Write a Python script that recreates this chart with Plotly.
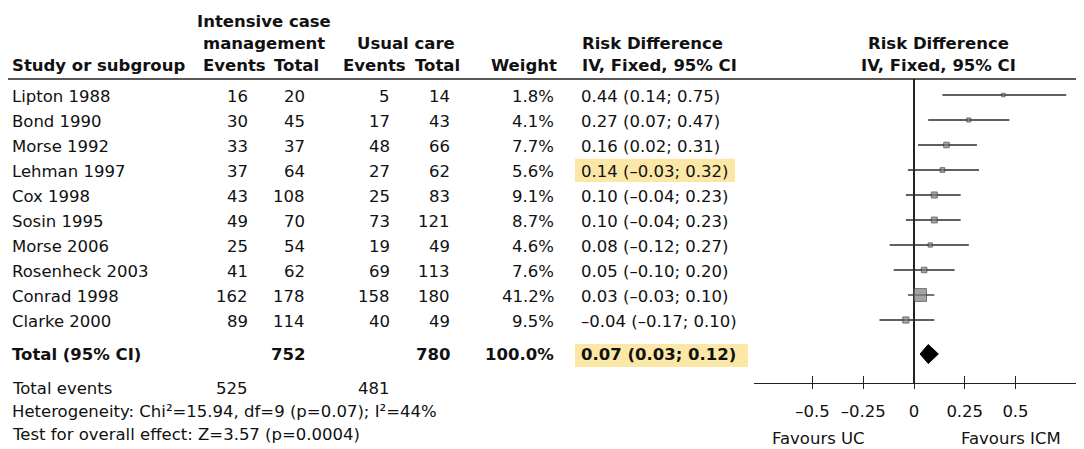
import plotly.graph_objects as go

# ---------------- data ----------------
STUDIES = ["Lipton 1988", "Bond 1990", "Morse 1992", "Lehman 1997", "Cox 1998",
           "Sosin 1995", "Morse 2006", "Rosenheck 2003", "Conrad 1998", "Clarke 2000"]
ICM_EVENTS = [16, 30, 33, 37, 43, 49, 25, 41, 162, 89]
ICM_TOTAL = [20, 45, 37, 64, 108, 70, 54, 62, 178, 114]
UC_EVENTS = [5, 17, 48, 27, 25, 73, 19, 69, 158, 40]
UC_TOTAL = [14, 43, 66, 62, 83, 121, 49, 113, 180, 49]
WEIGHT = [1.8, 4.1, 7.7, 5.6, 9.1, 8.7, 4.6, 7.6, 41.2, 9.5]
RD = [0.44, 0.27, 0.16, 0.14, 0.10, 0.10, 0.08, 0.05, 0.03, -0.04]
RD_LO = [0.14, 0.07, 0.02, -0.03, -0.04, -0.04, -0.12, -0.10, -0.03, -0.17]
RD_HI = [0.75, 0.47, 0.31, 0.32, 0.23, 0.23, 0.27, 0.20, 0.10, 0.10]
HIGHLIGHT = ["Lehman 1997"]

TOTAL_ICM_N = 752
TOTAL_UC_N = 780
TOTAL_WEIGHT = 100.0
TOTAL_RD, TOTAL_LO, TOTAL_HI = 0.07, 0.03, 0.12
TOTAL_ICM_EVENTS = 525
TOTAL_UC_EVENTS = 481
HETEROGENEITY = "Heterogeneity: Chi\u00b2=15.94, df=9 (p=0.07); I\u00b2=44%"
OVERALL = "Test for overall effect: Z=3.57 (p=0.0004)"

TICK_VALS = [-0.5, -0.25, 0, 0.25, 0.5]
TICK_TEXT = ["\u20130.5", "\u20130.25", "0", "0.25", "0.5"]
FAVOURS = [("Favours UC", -0.47), ("Favours ICM", 0.48)]

# ---------------- layout helpers ----------------
W, H = 1084, 449
OFF = 8                       # page body margin: figure starts 8px right/down
ROW0, STEP = 95, 25           # page pixel centre of first study row and row pitch
FONT = "DejaVu Sans"
FS = 16.5
INK = "#111111"
LINE = "#222222"
YELLOW = "#FBE8A6"

def r_of(py):
    """page pixel y -> row units"""
    return (py - ROW0) / STEP

ZERO_PX, PX_PER_UNIT = 914, 203
AX_LEFT_PX = 754
X2_RANGE = [(AX_LEFT_PX - ZERO_PX) / PX_PER_UNIT, (W + OFF - ZERO_PX) / PX_PER_UNIT]
AXIS_PX, HEAD_LINE_PX = 383, 79

def fmt(v):
    return f"{v:.2f}".replace("-", "\u2013")

annotations = []

def txt(x, py, s, anchor="left", bold=False, xref="x"):
    annotations.append(dict(x=x, y=r_of(py), xref=xref, yref="y",
                            text=f"<b>{s}</b>" if bold else s,
                            showarrow=False, xanchor=anchor, yanchor="middle",
                            font=dict(family=FONT, size=FS, color=INK)))

# headers (page pixel coordinates)
txt(264, 21, "Intensive case", "center", True)
txt(264, 43, "management", "center", True)
txt(406, 43, "Usual care", "center", True)
txt(580, 43, "Risk Difference", "left", True)
txt(938, 43, "Risk Difference", "center", True)
txt(10, 65, "Study or subgroup", "left", True)
txt(234, 65, "Events", "center", True)
txt(296, 65, "Total", "center", True)
txt(374, 65, "Events", "center", True)
txt(437, 65, "Total", "center", True)
txt(559, 65, "Weight", "right", True)
txt(580, 65, "IV, Fixed, 95% CI", "left", True)
txt(938, 65, "IV, Fixed, 95% CI", "center", True)

COL_X = dict(ice=250, ict=307, uce=392, uct=452, w=556, rd=579, study=10)
TEXT_DY = 1
shapes = []
for i, name in enumerate(STUDIES):
    py = ROW0 + STEP * i + TEXT_DY
    txt(COL_X["study"], py, name)
    txt(COL_X["ice"], py, str(ICM_EVENTS[i]), "right")
    txt(COL_X["ict"], py, str(ICM_TOTAL[i]), "right")
    txt(COL_X["uce"], py, str(UC_EVENTS[i]), "right")
    txt(COL_X["uct"], py, str(UC_TOTAL[i]), "right")
    txt(COL_X["w"], py, f"{WEIGHT[i]:.1f}%", "right")
    txt(COL_X["rd"], py, f"{fmt(RD[i])} ({fmt(RD_LO[i])}; {fmt(RD_HI[i])})")
    if name in HIGHLIGHT:
        shapes.append(dict(type="rect", xref="x", yref="y", x0=575, x1=735,
                           y0=i - 0.45, y1=i + 0.48, fillcolor=YELLOW, line=dict(width=0),
                           layer="below"))

TOT_PY = 354
txt(COL_X["study"], TOT_PY, "Total (95% CI)", bold=True)
txt(COL_X["ict"], TOT_PY, str(TOTAL_ICM_N), "right", True)
txt(COL_X["uct"], TOT_PY, str(TOTAL_UC_N), "right", True)
txt(COL_X["w"], TOT_PY, f"{TOTAL_WEIGHT:.1f}%", "right", True)
txt(COL_X["rd"], TOT_PY, f"{fmt(TOTAL_RD)} ({fmt(TOTAL_LO)}; {fmt(TOTAL_HI)})", bold=True)
shapes.append(dict(type="rect", xref="x", yref="y", x0=575, x1=748,
                   y0=r_of(344), y1=r_of(367), fillcolor=YELLOW, line=dict(width=0),
                   layer="below"))

txt(COL_X["study"], 388, "Total events")
txt(COL_X["ice"], 388, str(TOTAL_ICM_EVENTS), "right")
txt(COL_X["uce"], 388, str(TOTAL_UC_EVENTS), "right")
txt(COL_X["study"], 411, HETEROGENEITY)
txt(COL_X["study"], 434, OVERALL)

for label, xv in FAVOURS:
    txt(xv, 438, label, "center", xref="x2")

# header rule
shapes.append(dict(type="line", xref="x", yref="y", x0=0, x1=W + OFF,
                   y0=r_of(HEAD_LINE_PX), y1=r_of(HEAD_LINE_PX),
                   line=dict(color=LINE, width=1.5)))

# ---------------- forest traces ----------------
fig = go.Figure()
ci_x, ci_y = [], []
for i in range(len(STUDIES)):
    ci_x += [RD_LO[i], RD_HI[i], None]
    ci_y += [i, i, None]
fig.add_trace(go.Scatter(x=ci_x, y=ci_y, mode="lines", line=dict(color="#2b2b2b", width=1.3),
                         xaxis="x2", yaxis="y2", hoverinfo="skip", showlegend=False))
fig.add_trace(go.Scatter(x=RD, y=list(range(len(STUDIES))), mode="markers",
                         marker=dict(symbol="square", color="#808080",
                                     size=[max(3.5, 2 * w ** 0.5) for w in WEIGHT],
                                     line=dict(color="#3a3a3a", width=1)),
                         xaxis="x2", yaxis="y2", hoverinfo="skip", showlegend=False))
rd_row = r_of(354)
half_h = 0.38
fig.add_trace(go.Scatter(x=[TOTAL_LO, TOTAL_RD, TOTAL_HI, TOTAL_RD, TOTAL_LO],
                         y=[rd_row, rd_row - half_h, rd_row, rd_row + half_h, rd_row],
                         mode="lines", fill="toself", fillcolor="black",
                         line=dict(color="black", width=1),
                         xaxis="x2", yaxis="y2", hoverinfo="skip", showlegend=False))
# invisible traces to anchor helper axes
fig.add_trace(go.Scatter(x=[0], y=[0], mode="markers", marker=dict(opacity=0),
                         xaxis="x3", yaxis="y2", hoverinfo="skip", showlegend=False))
fig.add_trace(go.Scatter(x=[100], y=[0], mode="markers", marker=dict(opacity=0),
                         xaxis="x", yaxis="y", hoverinfo="skip", showlegend=False))

y2_domain = [(H - (AXIS_PX - OFF)) / H, (H - (HEAD_LINE_PX - OFF)) / H]
fig.update_layout(
    width=W, height=H, margin=dict(l=0, r=0, t=0, b=0),
    paper_bgcolor="white", plot_bgcolor="rgba(0,0,0,0)",
    showlegend=False,
    font=dict(family=FONT, size=FS, color=INK),
    xaxis=dict(domain=[0, 1], range=[OFF, W + OFF], visible=False, fixedrange=True),
    yaxis=dict(domain=[0, 1], range=[r_of(H + OFF), r_of(OFF)], visible=False, fixedrange=True),
    xaxis2=dict(domain=[(AX_LEFT_PX - OFF) / W, 1], range=X2_RANGE, anchor="y2",
                showline=True, linecolor=LINE, linewidth=1.3,
                ticks="outside", ticklen=5, tickwidth=1.3, tickcolor=LINE,
                tickvals=TICK_VALS, ticktext=TICK_TEXT, ticklabelstandoff=8,
                tickfont=dict(family=FONT, size=FS, color=INK),
                zeroline=True, zerolinecolor=LINE, zerolinewidth=1.5,
                showgrid=False, fixedrange=True),
    xaxis3=dict(overlaying="x2", range=X2_RANGE, anchor="y2",
                ticks="inside", ticklen=7, tickwidth=1.3, tickcolor=LINE,
                tickvals=TICK_VALS, showticklabels=False, showline=False,
                zeroline=False, showgrid=False, fixedrange=True),
    yaxis2=dict(domain=y2_domain, range=[r_of(AXIS_PX), r_of(HEAD_LINE_PX)],
                anchor="x2", visible=False, fixedrange=True),
    annotations=annotations,
    shapes=shapes,
)

fig.write_html("out.html", config={"displayModeBar": False})
